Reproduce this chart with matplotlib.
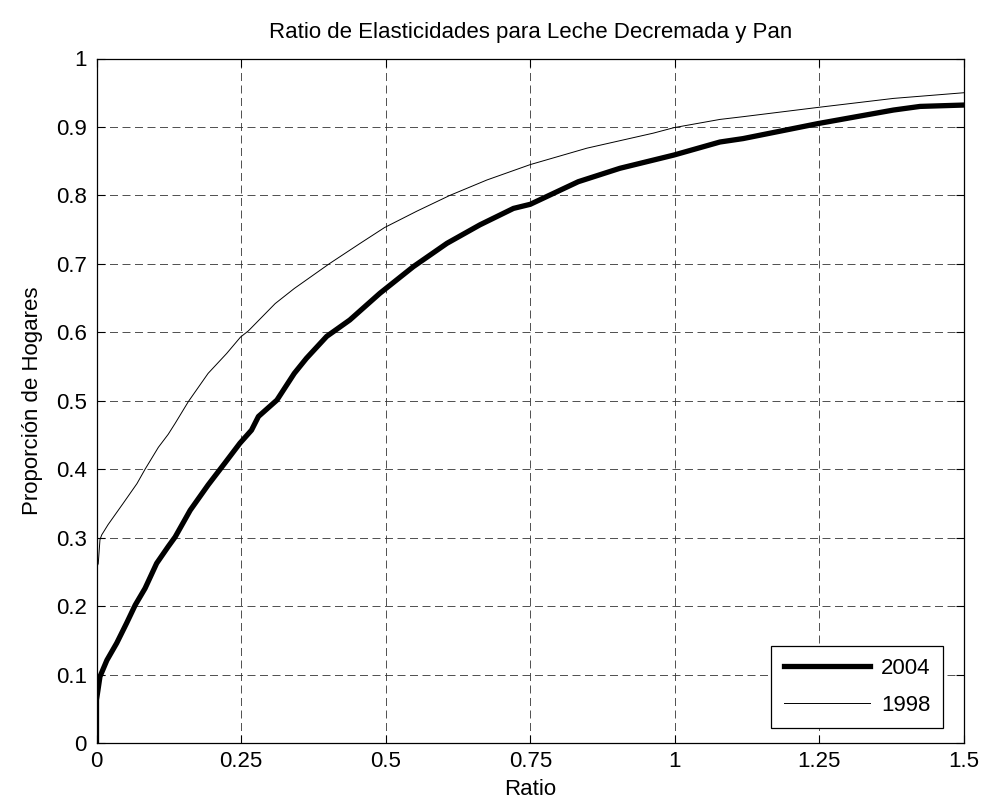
import numpy as np
import matplotlib.pyplot as plt

plt.rcParams['font.family'] = ['Liberation Sans', 'DejaVu Sans']

# curva 2004 (gruesa)
x_2004 = [0.0, 0.0, 0.006, 0.018, 0.035, 0.052, 0.067, 0.084, 0.104, 0.124,
          0.136, 0.162, 0.193, 0.222, 0.248, 0.268, 0.280, 0.312, 0.342,
          0.363, 0.398, 0.438, 0.490, 0.548, 0.606, 0.663, 0.721, 0.750,
          0.833, 0.905, 0.9986, 1.078, 1.118, 1.248, 1.378, 1.424, 1.5]
y_2004 = [0.0, 0.063, 0.097, 0.121, 0.146, 0.175, 0.2016, 0.226, 0.2625, 0.287,
          0.301, 0.340, 0.377, 0.409, 0.438, 0.457, 0.477, 0.501, 0.540,
          0.562, 0.594, 0.618, 0.657, 0.696, 0.730, 0.757, 0.781, 0.787,
          0.820, 0.8396, 0.859, 0.878, 0.883, 0.905, 0.9247, 0.930, 0.932]

# curva 1998 (fina)
x_1998 = [0.0, 0.003, 0.006, 0.009, 0.020, 0.046, 0.070, 0.084, 0.107, 0.124,
          0.136, 0.159, 0.193, 0.225, 0.249, 0.2625, 0.309, 0.342, 0.404,
          0.456, 0.498, 0.554, 0.611, 0.675, 0.750, 0.848, 0.963, 0.9986,
          1.078, 1.118, 1.248, 1.378, 1.5]
y_1998 = [0.256, 0.262, 0.297, 0.304, 0.319, 0.350, 0.379, 0.400, 0.432, 0.451,
          0.467, 0.499, 0.540, 0.569, 0.593, 0.602, 0.642, 0.664, 0.701,
          0.730, 0.753, 0.777, 0.800, 0.8225, 0.845, 0.869, 0.891, 0.899,
          0.911, 0.915, 0.9286, 0.9417, 0.950]

xticks = [0, 0.25, 0.5, 0.75, 1, 1.25, 1.5]
xticklabels = ['0', '0.25', '0.5', '0.75', '1', '1.25', '1.5']
yticks = [0, 0.1, 0.2, 0.3, 0.4, 0.5, 0.6, 0.7, 0.8, 0.9, 1]
yticklabels = ['0', '0.1', '0.2', '0.3', '0.4', '0.5', '0.6', '0.7', '0.8', '0.9', '1']

W, H = 985, 809
fig = plt.figure(figsize=(W / 100, H / 100), dpi=100)
ax = fig.add_axes([96.5 / W, (H - 743) / H, 867.5 / W, (743 - 58.5) / H])

ax.plot(x_2004, y_2004, color='black', linewidth=3.8, label='2004',
        solid_joinstyle='round', zorder=3)
ax.plot(x_1998, y_1998, color='black', linewidth=0.7, label='1998', zorder=3)

ax.set_xlim(0, 1.5)
ax.set_ylim(0, 1)
ax.set_xticks(xticks)
ax.set_xticklabels(xticklabels)
ax.set_yticks(yticks)
ax.set_yticklabels(yticklabels)
ax.tick_params(direction='in', length=6, width=0.8, labelsize=16,
               top=True, right=True)
ax.tick_params(axis='x', pad=6)
ax.tick_params(axis='y', pad=7)
ax.grid(True, color='#333333', linestyle=(0, (9.6, 5.4)), linewidth=0.6)
for s in ax.spines.values():
    s.set_linewidth(0.9)

ax.set_title('Ratio de Elasticidades para Leche Decremada y Pan',
             fontsize=16, pad=14.5)
ax.set_xlabel('Ratio', fontsize=16, labelpad=5)
ax.set_ylabel('Proporción de Hogares', fontsize=16, labelpad=9)

leg = ax.legend(loc='lower right', bbox_to_anchor=(0.9758, 0.0219),
                fontsize=16, fancybox=False, edgecolor='black', framealpha=1,
                handlelength=3.9, handletextpad=0.5, borderaxespad=0,
                borderpad=0.55, labelspacing=0.7)
leg.get_frame().set_linewidth(0.9)

plt.savefig('out.png', dpi=100, facecolor='white')
plt.close()
